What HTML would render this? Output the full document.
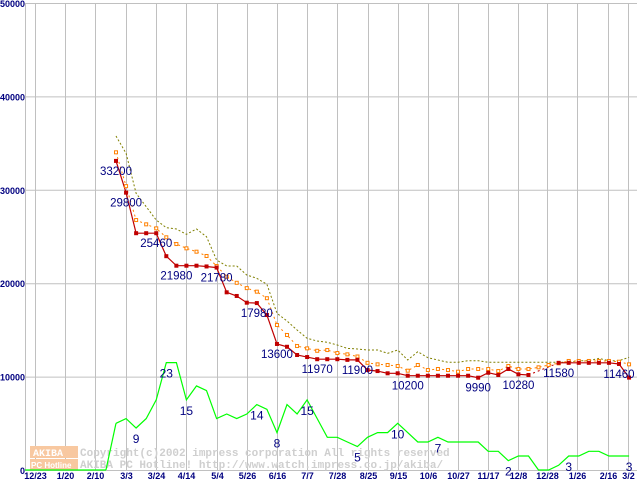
<!DOCTYPE html>
<html><head><meta charset="utf-8"><style>
html,body{margin:0;padding:0;background:#fff;}
svg{display:block;font-family:"Liberation Sans",sans-serif;}
</style></head><body>
<svg id="chart" width="640" height="480" viewBox="0 0 640 480" xmlns="http://www.w3.org/2000/svg">
<rect x="0" y="0" width="640" height="480" fill="#fff"/>
<g id="grid"></g>
<g id="watermark">
  <rect x="30" y="446" width="48" height="12" fill="#f8c8a0"/>
  <rect x="30" y="459" width="48" height="11" fill="#f8c8a0"/>
  <text x="33" y="456" font-size="10" font-weight="bold" fill="#fff" font-family="Liberation Mono,monospace">AKIBA</text>
  <text x="31" y="468" font-size="8" font-weight="bold" fill="#fff">PC Hotline</text>
  <text x="80" y="456" font-size="11" font-weight="bold" fill="#cfcfcf" font-family="Liberation Mono,monospace">Copyright(c)2002 impress corporation All rights reserved</text>
  <text x="80" y="468" font-size="11" font-weight="bold" fill="#cfcfcf" font-family="Liberation Mono,monospace">AKIBA PC Hotline!  http://www.watch.impress.co.jp/akiba/</text>
</g>
<g id="series"></g>
<g id="labels"></g>
</svg>
<script>
const xTickLabels = ["12/23","1/20","2/10","3/3","3/24","4/14","5/4","5/26","6/16","7/7","7/28","8/25","9/15","10/6","10/27","11/17","12/8","12/28","1/26","2/16","3/2"];
const xTickWeek = [-8.1,-5.1,-2.1,1,4,7,10,13,16,19,22,25,28,31,34,37,40,42.8,45.8,48.9,50.9];
const yTicks = [0,10000,20000,30000,40000,50000];
const minPrice = [33200,29800,25460,25460,25460,23000,21980,21980,21980,21900,21780,19130,18740,18020,17980,16700,13600,13300,12420,12200,11970,11970,11970,11900,11900,10810,10700,10460,10460,10200,10200,10200,10200,10200,10200,10200,9990,10520,10280,10920,10350,10280,null,null,11580,11580,11580,11580,11580,11580,11460,10000];
const avgPrice = [34120,30500,26870,26410,25980,25020,24300,23840,23480,23020,21950,20800,20150,19580,19200,18500,15630,14560,13380,13130,12870,12950,12630,12490,12260,11580,11420,11350,11240,10740,11350,10810,10920,10810,10630,10920,10920,10920,10700,11240,10920,10920,11100,11350,11530,11780,11780,11780,11780,11780,11700,11420];
const maxPrice = [35870,34000,29730,28300,26870,26050,25910,25340,25910,25090,22590,21950,21950,20990,20630,19990,16880,16060,15100,14210,13920,13780,13490,13130,13060,12950,12950,12600,12950,11880,12770,12130,11880,11640,11640,11810,11810,11640,11640,11640,11640,11640,11640,11640,11640,11640,11810,11810,12060,11810,11810,12170];
const shopCount = [10,11,9,11,15,23,23,15,18,17,11,12,11,12,14,13,8,14,12,15,11,7,7,6,5,7,8,8,10,8,6,6,7,6,6,6,6,4,4,2,3,3,0,0,1,3,3,4,4,3,3,3];
const priceLabelIdx = [0,1,4,6,10,14,16,20,24,29,36,41,44,50];
const countLabelIdx = [2,5,7,14,16,19,24,28,32,39,45,51];

const NS="http://www.w3.org/2000/svg";
const X0=116, DX=10.06, Y0=471, KY=0.00934, KC=4.67;
const xs=i=>X0+i*DX;
const ys=v=>Y0-v*KY;
const yc=c=>470-c*KC;
function mk(tag,attrs,parent){const e=document.createElementNS(NS,tag);for(const k in attrs)e.setAttribute(k,attrs[k]);parent.appendChild(e);return e;}
const grid=document.getElementById('grid'), series=document.getElementById('series'), labels=document.getElementById('labels');

yTicks.forEach((v,i)=>{
  const l=mk('line',{x1:25,x2:637,y1:ys(v)-0.5,y2:ys(v)-0.5,stroke:'#c0c0c0','stroke-width':1},grid);
  
  
  const t=mk('text',{x:v===0?20:0,y:ys(v)+3,'font-size':9,'font-weight':'bold',fill:'#000080'},labels);
  t.textContent=v;
  
  
});
const ax=mk('line',{x1:25.5,x2:25.5,y1:4,y2:471,stroke:'#c0c0c0','stroke-width':1},grid);


xTickWeek.forEach((w,i)=>{
  const x=Math.round(xs(w))+0.5;
  const l=mk('line',{x1:x,x2:x,y1:4,y2:471,stroke:'#c0c0c0','stroke-width':1},grid);
  
  
  const t=mk('text',{x:x,y:479,'font-size':9,'font-weight':'bold',fill:'#000080','text-anchor':'middle'},labels);
  t.textContent=xTickLabels[i];
  
  
});

function poly(arr,fy,stroke,dash,name,w){
  let segs=[],cur=[];
  arr.forEach((v,i)=>{if(v===null){if(cur.length)segs.push(cur);cur=[];}else cur.push(xs(i).toFixed(1)+','+fy(v).toFixed(1));});
  if(cur.length)segs.push(cur);
  segs.forEach(s=>{
    const p=mk('polyline',{points:s.join(' '),fill:'none',stroke:stroke,'stroke-width':w||1.2},series);
    if(dash)p.setAttribute('stroke-dasharray',dash);
    
    
  });
}
const z=mk('line',{x1:25,x2:xs(-1),y1:yc(0),y2:yc(0),stroke:'#00ff00','stroke-width':1.2},series);


const zz=mk('line',{x1:xs(-1),x2:xs(0),y1:yc(0),y2:yc(shopCount[0]),stroke:'#00ff00','stroke-width':1.2},series);


poly(shopCount,yc,'#00ff00',null,'count-line');
poly(maxPrice,ys,'#808000','2,2','max-price-line',1);
poly(avgPrice,ys,'#ff8000','2,3','avg-price-line',1);
poly(minPrice,ys,'#c00000',null,'min-price-line');
const gi=[41,44];
const gb=mk('line',{x1:xs(gi[0]),y1:ys(minPrice[gi[0]]),x2:xs(gi[1]),y2:ys(minPrice[gi[1]]),stroke:'#c00000','stroke-width':1,'stroke-dasharray':'2,3'},series);


avgPrice.forEach((v,i)=>{
  const r=mk('rect',{x:xs(i)-1.5,y:ys(v)-1.5,width:3,height:3,fill:'#fff',stroke:'#ff8000','stroke-width':1},series);
  
  
});
minPrice.forEach((v,i)=>{
  if(v===null)return;
  const r=mk('rect',{x:xs(i)-2,y:ys(v)-2,width:4,height:4,fill:'#c00000'},series);
  
  
});
priceLabelIdx.forEach(i=>{
  const t=mk('text',{x:xs(i)+(i===41?-10:0),y:ys(minPrice[i])+14,'font-size':11.5,fill:'#000080','text-anchor':'middle'},labels);
  t.textContent=minPrice[i];
  
  
});
countLabelIdx.forEach(i=>{
  const t=mk('text',{x:xs(i),y:yc(shopCount[i])+15,'font-size':12,fill:'#000080','text-anchor':'middle'},labels);
  t.textContent=shopCount[i];
  
  
});
</script>
</body></html>
